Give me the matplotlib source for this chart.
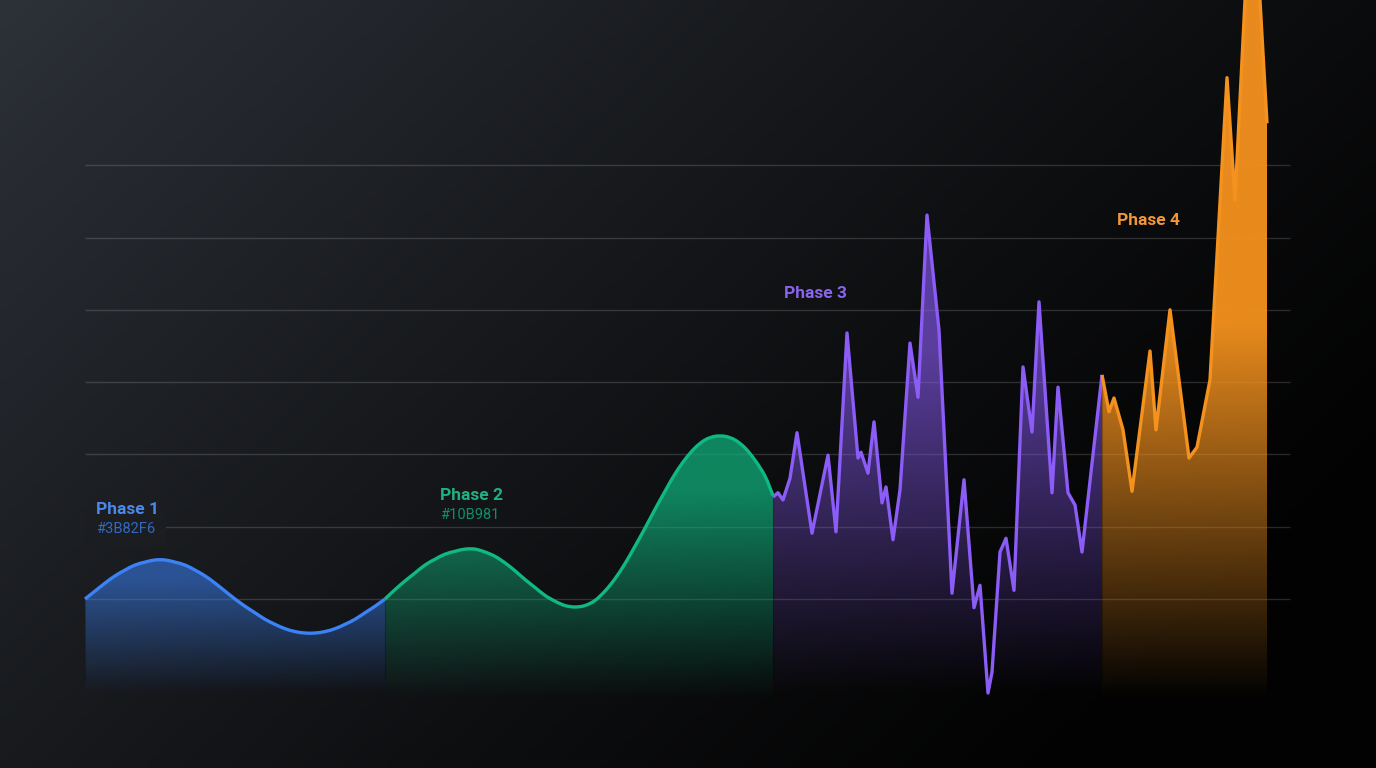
import numpy as np
import matplotlib
matplotlib.use("Agg")
import matplotlib.pyplot as plt
from matplotlib.colors import to_rgb
from matplotlib.path import Path
from matplotlib.patches import PathPatch

# ---------------- data ----------------
phase1_x = list(range(0, 31))
phase1_y = [0, .11, .22, .32, .40, .47, .51, .54, .54, .51, .47, .40, .32, .22, .11, 0,
            -.10, -.19, -.28, -.35, -.41, -.45, -.47, -.47, -.45, -.41, -.35, -.28, -.19, -.10, 0]

phase2_x = list(range(30, 69)) + [68.8]
phase2_y = [0, .13, .25, .36, .47, .55, .62, .66, .69, .69, .65, .59, .50, .39, .27, .16, .05,
            -.03, -.09, -.11, -.09, -.02, .11, .28, .49, .73, .98, 1.24, 1.49, 1.73, 1.93,
            2.09, 2.20, 2.25, 2.25, 2.20, 2.09, 1.92, 1.70, 1.43]

phase3_x = [68.8, 69.3, 69.8, 70.5, 71.2, 72.7, 74.3, 75.1, 76.2, 77.3, 77.6, 78.3, 78.9,
            79.7, 80.1, 80.8, 81.5, 82.5, 83.3, 84.2, 85.4, 86.7, 87.9, 88.9, 89.5, 90.3,
            90.7, 91.5, 92.1, 92.9, 93.8, 94.7, 95.4, 96.7, 97.3, 98.3, 99.0, 99.7, 101.7]
phase3_y = [1.41, 1.47, 1.37, 1.67, 2.30, 0.91, 1.99, 0.93, 3.68, 1.95, 2.03, 1.74, 2.45,
            1.33, 1.55, 0.82, 1.51, 3.54, 2.79, 5.31, 3.72, 0.08, 1.65, -0.12, 0.19, -1.30,
            -1.01, 0.65, 0.84, 0.12, 3.21, 2.31, 4.11, 1.47, 2.93, 1.47, 1.30, 0.65, 3.10]

phase4_x = [101.7, 102.4, 102.9, 103.8, 104.7, 106.5, 107.1, 108.5, 110.4, 111.2, 112.5,
            114.2, 115.0, 116.7, 118.2]
phase4_y = [3.10, 2.59, 2.78, 2.34, 1.49, 3.43, 2.34, 4.00, 1.95, 2.10, 3.03,
            7.21, 5.52, 10.22, 6.58]

phase_names = ["Phase 1", "Phase 2", "Phase 3", "Phase 4"]
phase_colors = ["#3B82F6", "#10B981", "#8B5CF6", "#F5921E"]
phase_hex = ["#3B82F6", "#10B981", None, None]
phase_smooth = [True, True, False, False]
grid_levels = [0, 1, 2, 3, 4, 5, 6]

# ---------------- figure ----------------
W, H = 1376, 768
fig = plt.figure(figsize=(W / 100, H / 100), dpi=100)
ax = fig.add_axes([0, 0, 1, 1])
XMIN, XMAX = -8.5, 129.1
YMIN, YMAX = -2.337, 8.285
ax.set_xlim(XMIN, XMAX)
ax.set_ylim(YMIN, YMAX)
ax.axis("off")


def y_to_px(v):
    return 599 - 72.3 * np.asarray(v)


def px_to_y(p):
    return (599 - np.asarray(p)) / 72.3


# background gradient
c0 = np.array([0.168, 0.184, 0.212])
gx, gy = np.meshgrid(np.linspace(0, 1, 400), np.linspace(0, 1, 240))
t = np.clip(0.72 * gx + 0.42 * gy, 0, 1)
f = np.clip(1 - t, 0, 1) ** 1.25
bg = c0[None, None, :] * f[..., None] + 0.008
ax.imshow(bg, extent=[XMIN, XMAX, YMIN, YMAX], origin="upper", aspect="auto",
          interpolation="bilinear", zorder=0)


def bg_at(px, py):
    tt = 0.72 * px / W + 0.42 * py / H
    return tuple(np.clip(c0 * (1 - tt) ** 1.25 + 0.008, 0, 1))


def line_path(xs, ys, smooth):
    pts = np.column_stack([xs, ys])
    if not smooth:
        return pts, [Path.MOVETO] + [Path.LINETO] * (len(pts) - 1)
    verts = [pts[0]]
    codes = [Path.MOVETO]
    n = len(pts)
    for i in range(n - 1):
        p0 = pts[i - 1] if i > 0 else pts[i]
        p1 = pts[i]
        p2 = pts[i + 1]
        p3 = pts[i + 2] if i + 2 < n else pts[i + 1]
        c1 = p1 + (p2 - p0) / 6.0
        c2 = p2 - (p3 - p1) / 6.0
        verts += [c1, c2, p2]
        codes += [Path.CURVE4] * 3
    return np.array(verts), codes


# grid lines
ax.hlines(grid_levels, 0, 120.5, color="white", alpha=0.15, lw=1.0, zorder=1)

# fills + lines
fill_params = [(0.55, 116, 695), (0.70, 210, 700), (0.62, 345, 695), (0.95, 375, 700)]
series = [(phase1_x, phase1_y), (phase2_x, phase2_y), (phase3_x, phase3_y), (phase4_x, phase4_y)]
ybot = float(px_to_y(725))
seam_bot = float(px_to_y(680))
ytop = 11.0
for (xs, ys), col, (amax, L, bpx), sm in zip(series, phase_colors, fill_params, phase_smooth):
    xs = np.asarray(xs, float)
    ys = np.asarray(ys, float)
    verts, codes = line_path(xs, ys, sm)
    fverts = np.vstack([verts, [[xs[-1], ybot], [xs[0], ybot], [xs[0], ys[0]]]])
    fcodes = list(codes) + [Path.LINETO, Path.LINETO, Path.CLOSEPOLY]
    fill_patch = PathPatch(Path(fverts, fcodes), transform=ax.transData,
                           facecolor="none", edgecolor="none")
    ax.add_patch(fill_patch)
    vy = np.linspace(ybot, ytop, 600)
    a = amax * np.clip((bpx - y_to_px(vy)) / L, 0, 1)
    img = np.zeros((600, 1, 4))
    img[:, 0, :3] = to_rgb(col)
    img[:, 0, 3] = a
    im = ax.imshow(img, extent=[xs[0], xs[-1], ybot, ytop], origin="lower",
                   aspect="auto", interpolation="bilinear", zorder=2)
    im.set_clip_path(fill_patch)
    # faint seam at the phase start
    ax.vlines(xs[0], seam_bot, ys[0], color="black", alpha=0.22, lw=0.8, zorder=3)
    ax.add_patch(PathPatch(Path(verts, codes), facecolor="none", edgecolor=col, lw=2.4,
                           joinstyle="round", capstyle="butt", zorder=4, clip_on=False))

# labels
font = "Roboto"
label_pos = [(1.1, px_to_y(509)), (35.5, px_to_y(495)), (69.9, px_to_y(293)), (103.2, px_to_y(220))]
hex_pos = [(1.1, px_to_y(529)), (35.5, px_to_y(515))]
title_cols = ["#4A88EA", "#22B07E", "#8A63EE", "#F0963A"]
for i, name in enumerate(phase_names):
    x, y = label_pos[i]
    ax.text(x, y, name, color=title_cols[i], fontsize=12.5, fontweight="bold",
            family=font, va="center", ha="left", zorder=6)
for i, hx in enumerate(phase_hex):
    if hx is None:
        continue
    x, y = hex_pos[i]
    kw = {}
    if i == 0:
        kw["bbox"] = dict(boxstyle="square,pad=0.75", facecolor=bg_at(120, 529), edgecolor="none")
    ax.text(x, y, hx, color=phase_colors[i], alpha=0.75, fontsize=10.5,
            family=font, va="center", ha="left", zorder=5, **kw)

fig.savefig("out.png", dpi=100)
